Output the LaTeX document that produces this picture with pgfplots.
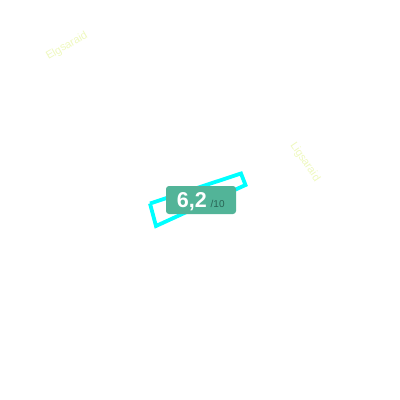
\documentclass[border=0pt]{standalone}
\usepackage{pgfplots}
\pgfplotsset{compat=1.18}
\usepackage{fontspec}
\setmainfont{Liberation Sans}
\definecolor{badge}{RGB}{82,180,152}
\definecolor{badgetxt}{RGB}{40,100,84}
\definecolor{faint}{RGB}{238,248,190}
\definecolor{cyanline}{RGB}{0,255,255}
\begin{document}
\begin{tikzpicture}
\begin{axis}[
  width=400pt, height=400pt, scale only axis,
  xmin=0, xmax=400, ymin=0, ymax=400, y dir=reverse,
  hide axis, clip=false,
]
\addplot[draw=cyanline, line width=3.8pt, line join=miter] coordinates {
  (150,203.5) (241,173.5) (245.5,185) (156,226) (150,203.5)
};
\draw[draw=none] (axis cs:0,0) rectangle (axis cs:400,400);
\node[rotate=30, text=faint, font=\fontsize{11}{12}\selectfont] at (axis cs:67,46) {Elgsaraid};
\node[rotate=-56, text=faint, font=\fontsize{11}{12}\selectfont] at (axis cs:305,162) {Ligsaraid};
\node[fill=badge, rounded corners=3pt, minimum width=70pt, minimum height=28pt, inner sep=0pt] at (axis cs:201,200) {};
\node[anchor=base east, text=white, font=\bfseries\fontsize{21.5}{22}\selectfont, inner sep=0pt] at (axis cs:207,207.5) {6,2};
\node[anchor=base west, text=badgetxt, font=\fontsize{10}{11}\selectfont, inner sep=0pt] at (axis cs:210.5,207.5) {/10};
\end{axis}
\end{tikzpicture}
\end{document}
